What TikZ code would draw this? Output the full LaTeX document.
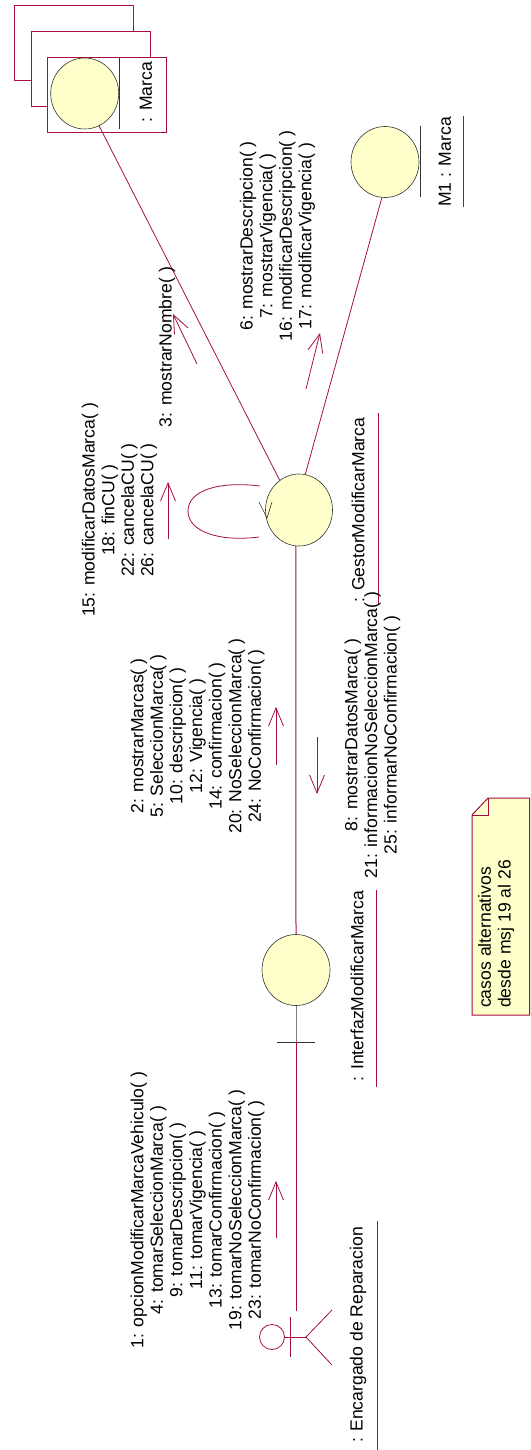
\documentclass[tikz,border=0pt]{standalone}
\usepackage{fontspec}
\setmainfont{Liberation Sans}
\usetikzlibrary{arrows.meta,shapes.geometric}
\definecolor{rose}{HTML}{A50F42}
\definecolor{pale}{HTML}{FFFFCC}
\definecolor{edge}{HTML}{333333}
\tikzset{
  x=1pt,y=-1pt,
  lbl/.style={rotate=90,align=center,inner sep=0,font=\fontsize{17.6}{19.6}\selectfont,text=black},
  lifeobj/.style={ellipse,draw=edge,fill=pale,line width=0.6pt,inner sep=0,minimum width=68pt,minimum height=71pt},
  stackbox/.style={rectangle,draw=rose,fill=white,line width=0.8pt,inner sep=0,minimum width=119pt,minimum height=75pt},
  link/.style={draw=rose,line width=0.8pt},
  msg/.style={draw=rose,line width=0.8pt,-{Straight Barb[length=18pt,width=15pt,line width=0.8pt]}},
  rulebar/.style={draw=edge,line width=0.6pt},
  under/.style={draw=rose,line width=0.8pt}
}
\begin{document}
\begin{tikzpicture}
\useasboundingbox (0,0) rectangle (530,1450);
% stacked multi-object
\node[stackbox] (s1) at (74,43) {};
\node[stackbox] (s2) at (91,68.5) {};
\node[stackbox] (s3) at (107,94.5) {};
\node[lifeobj] (marca) at (84.7,93.5) {};
\coordinate (mbA) at (119,58);
\coordinate (mbB) at (119,129);
\draw[rulebar] (mbA) -- (mbB);
\node[lbl] (marcaT) at (146,92) {: Marca};
% objects
\node[lifeobj] (m1) at (385,162) {};
\coordinate (m1bA) at (420,126);
\coordinate (m1bB) at (420,197);
\draw[rulebar] (m1bA) -- (m1bB);
\node[lbl] (m1T) at (445,162) {M1 : Marca};
\coordinate (m1uA) at (463,116);
\coordinate (m1uB) at (463,207);
\draw[under] (m1uA) -- (m1uB);
\node[lifeobj,minimum height=72pt,minimum width=67pt] (gestor) at (299,510) {};
\node[lbl] (gestorT) at (358,510) {: GestorModificarMarca};
\coordinate (guA) at (378,413);
\coordinate (guB) at (378,605);
\draw[under] (guA) -- (guB);
\node[lifeobj] (interfaz) at (296,970) {};
\coordinate (bar) at (296,1042);
\coordinate (barA) at (277,1042);
\coordinate (barB) at (315,1042);
\draw[rulebar] (barA) -- (barB);
\draw[rulebar,draw=gray,line width=1pt] (interfaz.south) -- (bar);
\node[lbl] (interfazT) at (357,986) {: InterfazModificarMarca};
\coordinate (iuA) at (376,890);
\coordinate (iuB) at (376,1087);
\draw[under] (iuA) -- (iuB);
% actor
\node[circle,draw=rose,line width=0.8pt,minimum size=25pt,inner sep=0] (head) at (272,1337) {};
\coordinate (hip) at (306,1337);
\coordinate (armA) at (290,1317);
\coordinate (armB) at (290,1357);
\coordinate (legA) at (332,1310);
\coordinate (legB) at (332,1365);
\draw[link] (head) -- (hip);
\draw[link] (armA) -- (armB);
\draw[link] (legA) -- (hip) -- (legB);
\coordinate (actorTop) at (296,1311);
\node[lbl] (actorT) at (358,1335) {: Encargado de Reparacion};
\coordinate (auA) at (377,1221);
\coordinate (auB) at (377,1450);
\draw[under] (auA) -- (auB);
% links
\draw[link] (marca.294) -- (gestor.123);
\draw[link] (m1.265) -- (gestor.80);
\draw[link,line width=1pt] (gestor.265) -- (interfaz.north);
\draw[link,line width=1pt] (bar) -- (actorTop);
% self loop
\coordinate (lpA) at (260,486);
\coordinate (lpB) at (259,537);
\coordinate (lpC) at (188,511);
\draw[link] (lpA) .. controls (220,481) and (188,490) .. (lpC) .. controls (188,532) and (220,542) .. (lpB);
\coordinate (tipL) at (267,518);
\coordinate (wgA) at (259,502);
\coordinate (wgB) at (272,502);
\draw[rulebar] (wgA) -- (tipL) -- (wgB);
% message arrows
\coordinate (a1t) at (197,364); \coordinate (a1h) at (173,314);
\draw[msg] (a1t) -- (a1h);
\coordinate (a2t) at (306,389); \coordinate (a2h) at (320,333);
\draw[msg] (a2t) -- (a2h);
\coordinate (a3t) at (168,539); \coordinate (a3h) at (168,482);
\draw[msg] (a3t) -- (a3h);
\coordinate (a4t) at (276,765); \coordinate (a4h) at (276,707);
\draw[msg] (a4t) -- (a4h);
\coordinate (a5t) at (317,737); \coordinate (a5h) at (317,794);
\draw[msg] (a5t) -- (a5h);
\coordinate (a6t) at (276,1238); \coordinate (a6h) at (276,1181);
\draw[msg] (a6t) -- (a6h);
% message labels
\node[lbl] (t3) at (167,347) {3: mostrarNombre( )};
\node[lbl] (t6) at (277.5,236) {6: mostrarDescripcion( )\\7: mostrarVigencia( )\\16: modificarDescripcion( )\\17: modificarVigencia( )};
\node[lbl] (t15) at (119.5,510) {15: modificarDatosMarca( )\\18: finCU( )\\22: cancelaCU( )\\26: cancelaCU( )};
\node[lbl] (t2) at (197.5,736) {2: mostrarMarcas( )\\5: SeleccionMarca( )\\10: descripcion( )\\12: Vigencia( )\\14: confirmacion( )\\20: NoSeleccionMarca( )\\24: NoConfirmacion( )};
\node[lbl] (t8) at (372.5,735) {8: mostrarDatosMarca( )\\21: informacionNoSeleccionMarca( )\\25: informarNoConfirmacion( )};
\node[lbl] (t1) at (197.5,1210) {1: opcionModificarMarcaVehiculo( )\\4: tomarSeleccionMarca( )\\9: tomarDescripcion( )\\11: tomarVigencia( )\\13: tomarConfirmacion( )\\19: tomarNoSeleccionMarca( )\\23: tomarNoConfirmacion( )};
% note
\coordinate (nA) at (472,815);
\coordinate (nB) at (488,798);
\coordinate (nC) at (529.5,798);
\coordinate (nD) at (529.5,1015);
\coordinate (nE) at (472,1015);
\coordinate (nF) at (488,815);
\draw[rose,fill=pale,line width=1pt] (nA) -- (nB) -- (nC) -- (nD) -- (nE) -- cycle;
\draw[rose,line width=0.8pt] (nB) -- (nF) -- (nA);
\node[lbl,align=left,anchor=north west] (noteT) at (478,1008) {casos alternativos\\desde msj 19 al 26};
\end{tikzpicture}
\end{document}
